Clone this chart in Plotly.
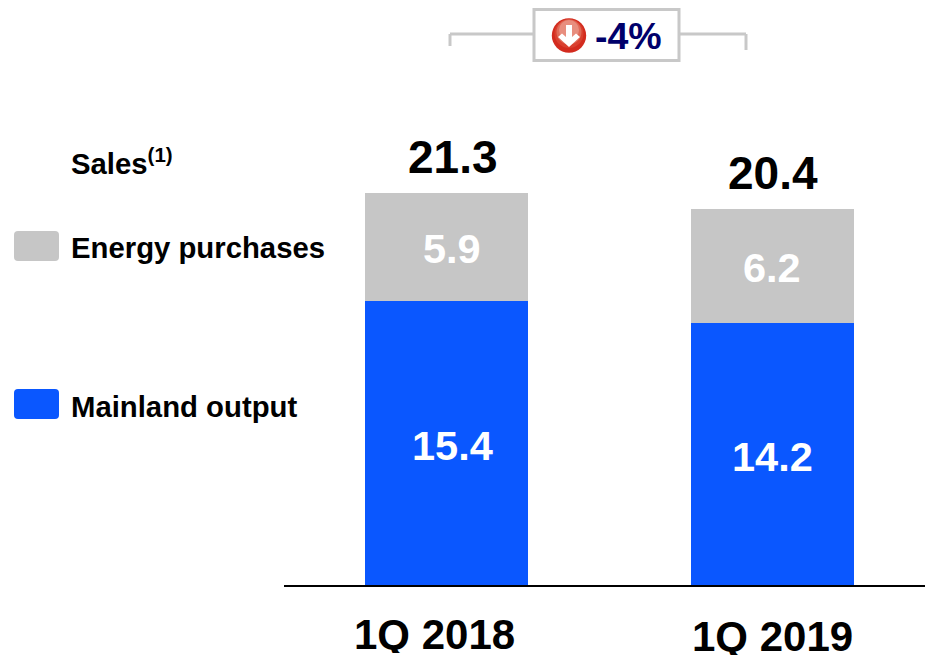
import plotly.graph_objects as go

# ---------- data ----------
categories = ["1Q 2018", "1Q 2019"]
mainland_output = [15.4, 14.2]
energy_purchases = [5.9, 6.2]
totals = [21.3, 20.4]
change_label = "-4%"
legend_title = "Sales<sup>(1)</sup>"
legend_labels = ["Energy purchases", "Mainland output"]

# ---------- style ----------
W, H = 925, 656
ML, MB = 284, 71
PX_PER_UNIT = 18.42
BLUE, GREY, LINE = "#0A57FF", "#C6C6C6", "#C8C8C8"
NAVY = "#00006B"
FONT = "Liberation Sans"
BASE_OFFSETS = [(6, -2), (0, -2)]    # label nudge (px) for the bottom segments
TOP_OFFSETS = [(6, -2), (0, -1)]     # label nudge (px) for the top segments
TOTAL_XSHIFT = [7, 1]


def px(x):
    return (x - ML) / (W - ML)


def py(y):
    return (H - MB - y) / (H - MB)


fig = go.Figure()
fig.add_bar(x=categories, y=mainland_output, name=legend_labels[1], marker=dict(color=BLUE, line_width=0))
fig.add_bar(x=categories, y=energy_purchases, name=legend_labels[0], marker=dict(color=GREY, line_width=0))


def note(text, x, y, size, color="black", xanchor="left", **kw):
    return dict(text=f"<b>{text}</b>", x=px(x), y=py(y), xref="paper", yref="paper", showarrow=False,
                xanchor=xanchor, yanchor="middle", font=dict(family=FONT, size=size, color=color), **kw)


def value_label(cat, value, mid, offset):
    return dict(text=f"<b>{value:.1f}</b>", x=cat, y=mid, xref="x", yref="y", showarrow=False,
                xshift=offset[0], yshift=offset[1], font=dict(family=FONT, size=41.5, color="white"))


annotations = [
    dict(text=f"<b>{t:.1f}</b>", x=c, y=t, xref="x", yref="y", yanchor="bottom", showarrow=False, yshift=8,
         xshift=dx, font=dict(family=FONT, size=46, color="black"))
    for c, t, dx in zip(categories, totals, TOTAL_XSHIFT)
]
for c, m, e, o1, o2 in zip(categories, mainland_output, energy_purchases, BASE_OFFSETS, TOP_OFFSETS):
    annotations.append(value_label(c, m, m / 2, o1))
    annotations.append(value_label(c, e, m + e / 2, o2))
annotations += [
    note(categories[0], 434, 634, 42, xanchor="center", height=38),
    note(categories[1], 772, 636, 42, xanchor="center", height=38),
    note(legend_title, 69, 161, 29.3),
    note(legend_labels[0], 69, 247.5, 29.3),
    note(legend_labels[1], 69, 406.5, 29.3),
    note(change_label, 628.5, 36, 37.5, color=NAVY, xanchor="center"),
]


def rounded(x0, y0, x1, y1, r):
    X0, X1 = px(x0), px(x1)
    Y0, Y1 = py(y0), py(y1)
    rx, ry = r / (W - ML), r / (H - MB)
    return (f"M{X0+rx},{Y0} L{X1-rx},{Y0} Q{X1},{Y0} {X1},{Y0-ry} L{X1},{Y1+ry} Q{X1},{Y1} {X1-rx},{Y1} "
            f"L{X0+rx},{Y1} Q{X0},{Y1} {X0},{Y1+ry} L{X0},{Y0-ry} Q{X0},{Y0} {X0+rx},{Y0} Z")


def seg(x0, y0, x1, y1, color=LINE, width=3):
    return dict(type="line", xref="paper", yref="paper", x0=px(x0), y0=py(y0), x1=px(x1), y1=py(y1),
                line=dict(color=color, width=width))


def paper_path(points):
    return "M" + " L".join(f"{px(x)},{py(y)}" for x, y in points) + " Z"


def disc(cx, cy, r, color):
    return dict(type="circle", xref="paper", yref="paper", x0=px(cx - r), x1=px(cx + r), y0=py(cy + r), y1=py(cy - r),
                fillcolor=color, line_width=0)


ICON_X, ICON_Y = 569, 35.5
arrow = [(0, 11.5), (-11, 1.5), (-7, -2), (-3, 1.5), (-3, -10.5), (3, -10.5), (3, 1.5), (7, -2), (11, 1.5)]
# stacked, top-shifted discs give the icon its light-to-dark shading
icon_shapes = [
    disc(ICON_X, ICON_Y, 17.2, "#D32B1E"),
    disc(ICON_X, ICON_Y - 2, 14.5, "#D9402F"),
    disc(ICON_X, ICON_Y - 3.5, 12.5, "#E06A58"),
    disc(ICON_X, ICON_Y - 5.5, 10, "#E88E7E"),
    dict(type="path", xref="paper", yref="paper", path=paper_path([(ICON_X + a, ICON_Y + b) for a, b in arrow]),
         fillcolor="white", line_width=0),
]

shapes = [
    dict(type="path", xref="paper", yref="paper", path=rounded(14, 231, 59, 261, 4), fillcolor=GREY, line_width=0),
    dict(type="path", xref="paper", yref="paper", path=rounded(14, 389, 59, 419, 4), fillcolor=BLUE, line_width=0),
    seg(450, 34, 534, 34), seg(450, 34, 450, 46), seg(679, 34, 746, 34), seg(746, 34, 746, 50),
    dict(type="rect", xref="paper", yref="paper", x0=px(534), x1=px(679), y0=py(60.5), y1=py(9.5),
         line=dict(color=LINE, width=3), fillcolor="white"),
] + icon_shapes

fig.update_layout(
    width=W, height=H, barmode="stack", bargap=0.5, showlegend=False,
    margin=dict(l=ML, r=0, t=0, b=MB, autoexpand=False),
    paper_bgcolor="white", plot_bgcolor="white",
    xaxis=dict(type="category", range=[-0.498, 1.468], showticklabels=False, ticks="", showgrid=False,
               showline=True, linecolor="black", linewidth=2, zeroline=False),
    yaxis=dict(range=[0, (H - MB) / PX_PER_UNIT], visible=False),
    annotations=annotations, shapes=shapes,
)
fig.write_html("out.html", config={"displayModeBar": False},
               post_script="document.body.style.margin='0';document.body.style.overflow='hidden';")
